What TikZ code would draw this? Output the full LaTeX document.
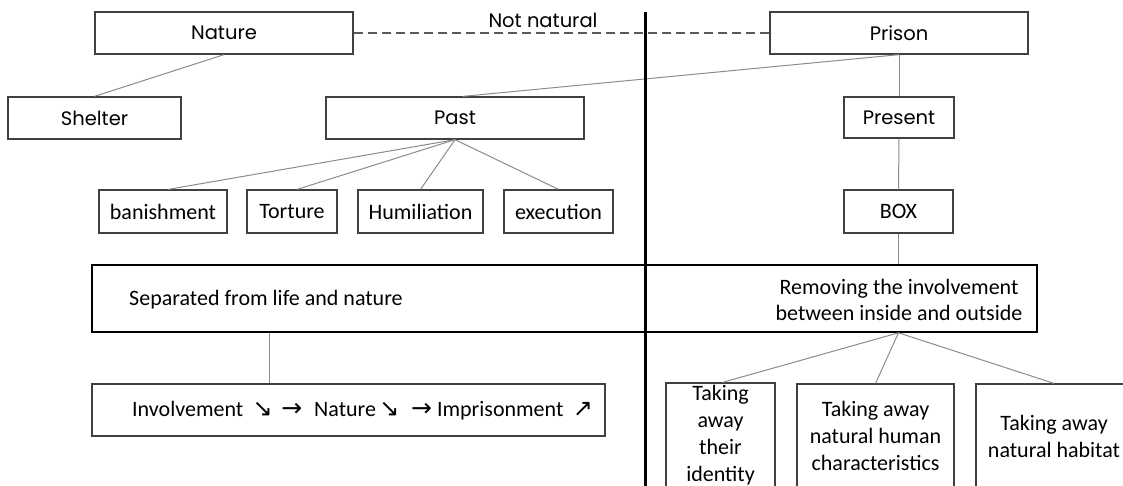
\documentclass[tikz,border=0pt]{standalone}
\usepackage{fontspec}
\setmainfont{Carlito}
\newfontfamily\popfont{Poppins}
\newfontfamily\symfont{DejaVu Sans}
\usetikzlibrary{calc}
\definecolor{boxgray}{HTML}{404040}
\definecolor{conngray}{HTML}{8C8C8C}
\definecolor{dashgray}{HTML}{5A5A5A}
\newcommand{\darr}{\makebox[17pt][c]{\symfont\fontsize{24}{24}\selectfont ↘}}
\newcommand{\uarr}{\makebox[19pt][c]{\symfont\fontsize{24}{24}\selectfont ↗}}
\newcommand{\rarr}{\makebox[19pt][c]{\symfont\fontsize{25}{25}\selectfont →}}
\begin{document}
\begin{tikzpicture}[x=1pt,y=-1pt,
  topbox/.style={draw=boxgray, line width=1.3pt, minimum height=42pt, inner sep=0pt, font=\popfont\fontsize{19.5}{22}\selectfont},
  calbox/.style={draw=boxgray, line width=1.2pt, minimum height=43pt, inner sep=0pt, font=\fontsize{22}{27}\selectfont},
  tallbox/.style={draw=boxgray, line width=1.2pt, minimum height=104pt, inner sep=0pt, align=center, font=\fontsize{22}{27}\selectfont},
  bigbox/.style={draw=black, line width=1.6pt, minimum height=67pt, inner sep=0pt},
  caltext/.style={inner sep=0pt, font=\fontsize{22}{26}\selectfont},
  conn/.style={draw=conngray, line width=1pt},
]
\useasboundingbox (0,0) rectangle (1123,485);
\clip (0,0) rectangle (1123,485);
\fill[white] (0,0) rectangle (1123,485);

% top row
\node[topbox, minimum width=258pt] (nature) at (224,33) {Nature};
\node[topbox, minimum width=258pt] (prison) at (899,33) {Prison};
\node[inner sep=0pt, font=\popfont\fontsize{19.5}{22}\selectfont] (notnat) at (543,20) {Not natural};

% second row
\node[topbox, minimum width=173pt] (shelter) at (94.5,118) {Shelter};
\node[topbox, minimum width=258pt] (past) at (455,118) {Past};
\node[topbox, minimum width=110pt, minimum height=41pt] (present) at (899,117.5) {Present};

% third row
\node[calbox, minimum width=128pt] (banish) at (163,211.5) {banishment};
\node[calbox, minimum width=90pt] (torture) at (292,211.5) {Torture};
\node[calbox, minimum width=125pt] (humil) at (420.5,211.5) {Humiliation};
\node[calbox, minimum width=109pt] (exec) at (558.5,211.5) {execution};
\node[calbox, minimum width=109pt] (box) at (898.5,211.5) {BOX};

% big boxes
\node[bigbox, minimum width=553pt] (sep) at (368.5,298.5) {};
\node[bigbox, minimum width=392pt] (rem) at (841,298.5) {};
\node[caltext, anchor=west] (septext) at (129,300) {Separated from life and nature};
\node[caltext, align=center] (remtext) at (899,300) {Removing the involvement\\between inside and outside};

% bottom row
\node[draw=boxgray, line width=1.2pt, minimum width=513pt, minimum height=52pt, inner sep=0pt] (inv) at (348.5,410) {};
\node[caltext, anchor=west] (invtext) at (132,411) {Involvement\hspace{11pt}\darr\hspace{11pt}\rarr\hspace{13pt}Nature\hspace{5pt}\darr\hspace{14pt}\rarr\hspace{6pt}Imprisonment\hspace{10pt}\uarr};
\node[tallbox, minimum width=109pt] (ident) at (720.5,435) {Taking\\away\\their\\identity};
\node[tallbox, minimum width=157pt] (human) at (875.5,436) {Taking away\\natural human\\characteristics};
\node[tallbox, minimum width=156pt] (habitat) at (1054,436) {Taking away\\natural habitat};

% connectors
\draw[draw=dashgray, line width=1.3pt, dash pattern=on 9pt off 5pt] (nature.east) -- (prison.west);
\draw[conn] (nature.south) -- (shelter.north);
\draw[conn] ([xshift=8pt]past.north) -- (prison.south);
\draw[conn] (prison.south) -- (present.north);
\draw[conn] (present.south) -- (box.north);
\draw[conn] (box.south) -- (box.south |- rem.north);
\draw[conn] (past.south) -- ([xshift=5pt]banish.north);
\draw[conn] (past.south) -- ([xshift=5pt]torture.north);
\draw[conn] (past.south) -- (humil.north);
\draw[conn] (past.south) -- (exec.north);
\path (inv.north west) ++(178,0) coordinate (invtop);
\draw[conn] (invtop |- sep.south) -- (invtop);
\draw[conn] (box.south |- rem.south) -- ([xshift=2pt]ident.north);
\draw[conn] (box.south |- rem.south) -- (human.north);
\draw[conn] (box.south |- rem.south) -- (habitat.north);

% divider
\coordinate (vtop) at (645,12);
\coordinate (vbot) at (645,490);
\draw[line width=3pt] (vtop) -- (vbot);
\end{tikzpicture}
\end{document}
